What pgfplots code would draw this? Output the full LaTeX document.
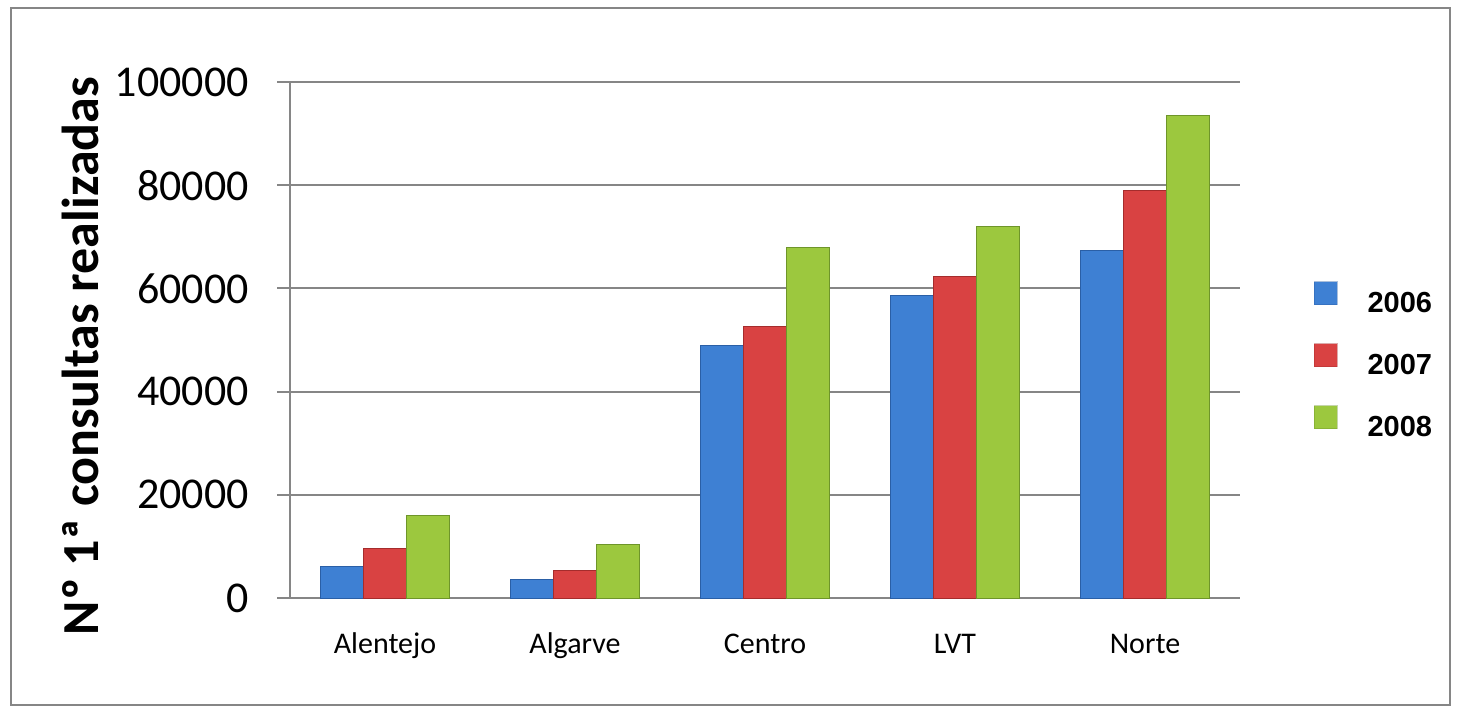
\documentclass[border=0pt]{standalone}
\usepackage{pgfplots}
\pgfplotsset{compat=1.18}
\usepackage{fontspec}
\setmainfont{Carlito}
\newfontfamily\legfont{Liberation Sans}
\definecolor{gridgray}{HTML}{868686}
\definecolor{bmid}{HTML}{3E80D3}\definecolor{bedge}{HTML}{2A5FA6}
\definecolor{rmid}{HTML}{D94242}\definecolor{redge}{HTML}{A52C2C}
\definecolor{gmid}{HTML}{9CC83E}\definecolor{gedge}{HTML}{6E952A}
\begin{document}
\begin{tikzpicture}
\path[use as bounding box] (0,0) rectangle (729pt,354.5pt);
\draw[gridgray, line width=0.8pt] (5.5pt,2pt) rectangle (725pt,350.5pt);
\begin{axis}[
  at={(145pt,55.5pt)}, anchor=south west,
  scale only axis, width=475pt, height=258pt,
  xmin=-0.5, xmax=4.5, ymin=0, ymax=100000,
  enlargelimits=false,
  axis lines*=left,
  axis line style={gridgray, line width=1pt},
  xtick={0,1,2,3,4},
  xticklabels={Alentejo,Algarve,Centro,LVT,Norte},
  major x tick style={draw=none},
  extra x ticks={-0.5,0.5,1.5,2.5,3.5,4.5},
  extra x tick labels={},
  extra x tick style={major tick length=4pt, tick align=outside, tick style={gridgray, line width=1pt}, grid=none},
  ytick={0,20000,40000,60000,80000,100000},
  yticklabels={0,20000,40000,60000,80000,100000},
  scaled y ticks=false,
  ymajorgrids,
  major grid style={gridgray, line width=1pt},
  ytick style={gridgray, line width=1pt},
  tick align=outside, major tick length=6.5pt,
  xtick pos=bottom, ytick pos=left,
  yticklabel style={font=\fontsize{22}{26}\selectfont, anchor=east, inner sep=0pt, xshift=-14pt},
  xticklabel style={font=\fontsize{15}{18}\selectfont, anchor=base, inner sep=0pt, yshift=-21pt},
  ylabel={Nº 1ª consultas realizadas},
  every axis y label/.style={at={(rel axis cs:0,0.5)}, rotate=90, anchor=center, xshift=-8pt, yshift=105pt, font=\bfseries\fontsize{26}{30}\selectfont},
  legend style={at={(1.077,0.457)}, anchor=west, draw=none, fill=none,
    font=\legfont\bfseries\fontsize{14.5}{17}\selectfont, row sep=12pt, inner sep=0pt,
    /tikz/every odd column/.append style={column sep=13pt}},
  legend cell align=left,
  legend image code/.code={\path[#1, draw opacity=0.4] (0pt,-0.5pt) rectangle (11.5pt,11pt);},
]
\addplot[ybar, bar width=0.226, bar shift=-0.226, draw=bedge, line width=0.5pt, fill=bmid]
  coordinates {(0,6200) (1,3500) (2,49000) (3,58600) (4,67300)};
\addplot[ybar, bar width=0.226, bar shift=0, draw=redge, line width=0.5pt, fill=rmid]
  coordinates {(0,9500) (1,5400) (2,52600) (3,62300) (4,79000)};
\addplot[ybar, bar width=0.226, bar shift=0.226, draw=gedge, line width=0.5pt, fill=gmid]
  coordinates {(0,15900) (1,10400) (2,67900) (3,72000) (4,93600)};
\legend{2006,2007,2008}
\end{axis}
\end{tikzpicture}
\end{document}
